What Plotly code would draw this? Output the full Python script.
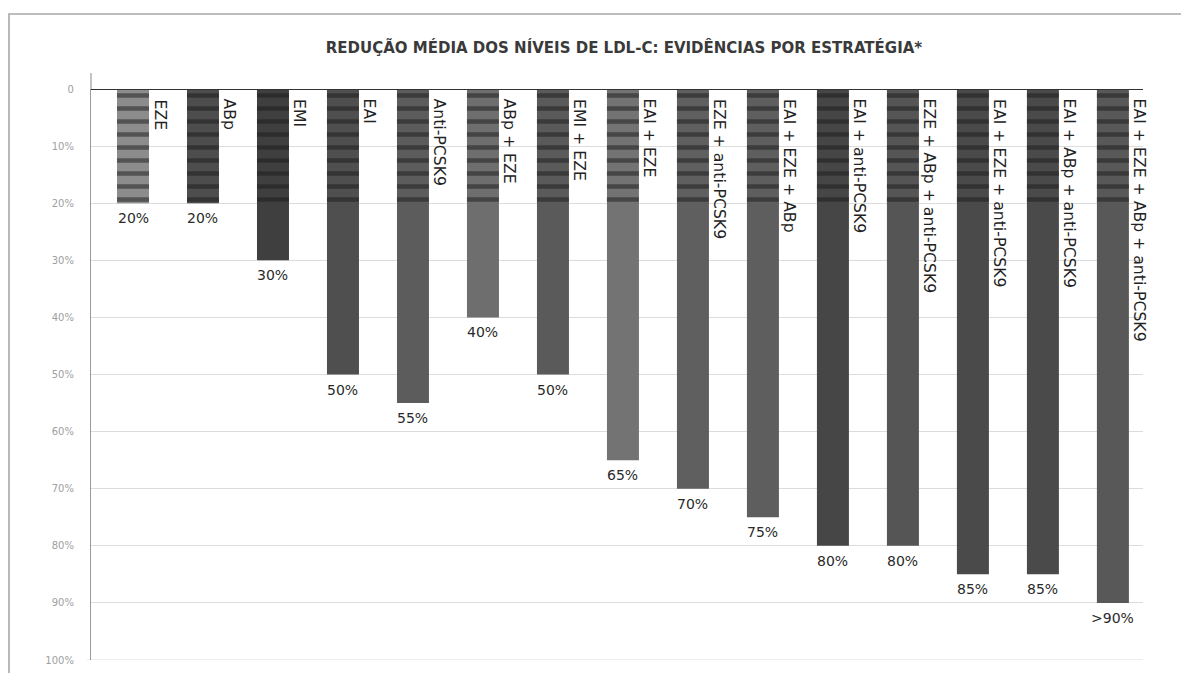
import plotly.graph_objects as go

# ---------------- data ----------------
strategies = ["EZE", "ABp", "EMI", "EAI", "Anti-PCSK9", "ABp + EZE", "EMI + EZE",
              "EAI + EZE", "EZE + anti-PCSK9", "EAI + EZE + ABp", "EAI + anti-PCSK9",
              "EZE + ABp + anti-PCSK9", "EAI + EZE + anti-PCSK9",
              "EAI + ABp + anti-PCSK9", "EAI + EZE + ABp + anti-PCSK9"]
reduction = [20, 20, 30, 50, 55, 40, 50, 65, 70, 75, 80, 80, 85, 85, 90]
value_labels = ["20%", "20%", "30%", "50%", "55%", "40%", "50%", "65%", "70%",
                "75%", "80%", "80%", "85%", "85%", ">90%"]
tick_vals = [0, 10, 20, 30, 40, 50, 60, 70, 80, 90, 100]
tick_text = ["0", "10%", "20%", "30%", "40%", "50%", "60%", "70%", "80%", "90%", "100%"]
title_text = "REDUÇÃO MÉDIA DOS NÍVEIS DE LDL-C: EVIDÊNCIAS POR ESTRATÉGIA*"

# ---------------- style ----------------
bar_colors = ["#8c8c8c", "#4d4d4d", "#3f3f3f", "#4f4f4f", "#5c5c5c", "#6e6e6e",
              "#5a5a5a", "#737373", "#5f5f5f", "#5e5e5e", "#464646", "#555555",
              "#4a4a4a", "#4a4a4a", "#585858"]
STRIPE_DEPTH = 20  # visual: striped band at the top of every bar
W, H = 1173, 665
ML, MT, MR, MB = 83, 81, 38, 13
FONT = "DejaVu Sans, Liberation Sans, Arial, sans-serif"

fig = go.Figure()
fig.add_trace(go.Bar(
    x=strategies, y=reduction, width=0.457,
    marker=dict(color=bar_colors, line=dict(width=0)),
    hoverinfo="x+y", showlegend=False,
))
# striped top band (texture overlay)
fig.add_trace(go.Bar(
    x=strategies, y=[min(v, STRIPE_DEPTH) for v in reduction], width=0.457,
    marker=dict(color="rgba(0,0,0,0)", line=dict(width=0),
                pattern=dict(shape="-", fgcolor="#1a1a1a", bgcolor="rgba(0,0,0,0)",
                             size=13, solidity=0.35, fillmode="overlay")),
    hoverinfo="skip", showlegend=False,
))

annotations = []
for s, v, lab in zip(strategies, reduction, value_labels):
    annotations.append(dict(
        x=s, y=0, xref="x", yref="y", text=s, showarrow=False, textangle=90,
        xanchor="center", yanchor="top", xshift=27, yshift=-8,
        font=dict(family=FONT, size=15.7, color="#222222"),
    ))
    annotations.append(dict(
        x=s, y=v, xref="x", yref="y", text=lab, showarrow=False,
        xanchor="center", yanchor="top", yshift=-5,
        font=dict(family=FONT, size=14, color="#2a2a2a"),
    ))

pw = W - ML - MR
ph = H - MT - MB
fx0 = (1 - ML) / pw
fy1 = (H - MB - 6) / ph

shapes = [
    dict(type="rect", xref="paper", yref="paper", x0=fx0, x1=1.3, y0=-0.2, y1=fy1,
         line=dict(color="#a8a8a8", width=1.6), fillcolor="rgba(0,0,0,0)", layer="below"),
    dict(type="line", xref="paper", yref="y", x0=0, x1=1, y0=0, y1=0,
         line=dict(color="#333333", width=2.2), layer="above"),
    dict(type="line", xref="paper", yref="y", x0=-0.004, x1=1, y0=100, y1=100,
         line=dict(color="#dcdcdc", width=1), layer="below"),
    # short extension of the vertical axis above the baseline
    dict(type="line", xref="paper", yref="paper", x0=0, x1=0, y0=1, y1=1 + 16 / ph,
         line=dict(color="#9a9a9a", width=1.2)),
]

fig.update_layout(
    width=W, height=H,
    margin=dict(l=ML, r=MR, t=MT, b=MB, autoexpand=False),
    paper_bgcolor="white", plot_bgcolor="white",
    barmode="overlay",
    title=dict(text=title_text, x=(616 - ML) / pw, xref="paper", xanchor="center",
               y=1 - 40 / H, yref="container", yanchor="middle",
               font=dict(family="DejaVu Sans, Liberation Sans, sans-serif", size=15,
                         color="#3a3a3a", weight="bold")),
    xaxis=dict(visible=False, range=[-0.6, 14.43], type="category", fixedrange=True,
               automargin=False),
    yaxis=dict(range=[100, 0], tickvals=tick_vals, ticktext=tick_text,
               showgrid=True, gridcolor="#dcdcdc", gridwidth=1, automargin=False,
               zeroline=False, showline=True, linecolor="#9a9a9a", linewidth=1.2,
               ticks="", ticklabelstandoff=14,
               tickfont=dict(family=FONT, size=10, color="#a0a0a0")),
    annotations=annotations, shapes=shapes,
)

fig.write_html("out.html")
